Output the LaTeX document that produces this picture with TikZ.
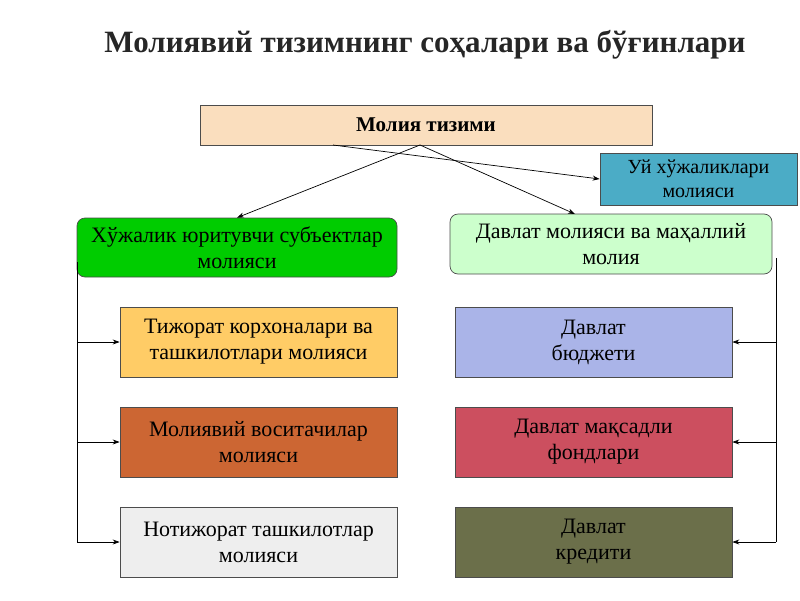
\documentclass[tikz,border=0pt]{standalone}
\usepackage{fontspec}
\setmainfont{Liberation Serif}
\usetikzlibrary{arrows.meta}
\begin{document}
\begin{tikzpicture}[x=1pt,y=-1pt,
 box/.style={draw=black!70,line width=0.7pt,align=center,font=\fontsize{22}{26}\selectfont,inner sep=0pt},
 arr/.style={-{Stealth[length=7pt,width=5pt]},line width=0.7pt}]
\useasboundingbox (0,0) rectangle (800,600);
\node[font=\bfseries\fontsize{31}{34}\selectfont,text=black!85] (title) at (425,45) {Молиявий тизимнинг соҳалари ва бўғинлари};
\node[box,fill={rgb,255:red,250;green,222;blue,190},minimum width=452pt,minimum height=40pt,font=\bfseries\fontsize{21}{24}\selectfont] (mt) at (426,125) {Молия тизими};
\node[box,fill={rgb,255:red,75;green,172;blue,198},minimum width=197pt,minimum height=52pt,font=\fontsize{20}{24}\selectfont] (uy) at (698.5,179) {Уй хўжаликлари\\молияси};
\node[box,fill={rgb,255:red,0;green,204;blue,0},rounded corners=8pt,minimum width=320pt,minimum height=59pt] (hj) at (237,247.5) {Хўжалик юритувчи субъектлар\\молияси};
\node[box,fill={rgb,255:red,204;green,255;blue,204},rounded corners=8pt,minimum width=322pt,minimum height=60pt] (dm) at (611,244) {Давлат молияси ва маҳаллий\\молия};
\node[box,fill={rgb,255:red,255;green,204;blue,102},minimum width=277pt,minimum height=70pt] (l1) at (258.5,342) {Тижорат корхоналари ва\\ташкилотлари молияси};
\node[box,fill={rgb,255:red,204;green,102;blue,51},minimum width=277pt,minimum height=70pt] (l2) at (258.5,442) {Молиявий воситачилар\\молияси};
\node[box,fill={rgb,255:red,238;green,238;blue,238},minimum width=277pt,minimum height=70pt] (l3) at (258.5,542) {Нотижорат ташкилотлар\\молияси};
\node[box,fill={rgb,255:red,170;green,180;blue,232},minimum width=277pt,minimum height=70pt] (r1) at (593.5,342) {Давлат\\бюджети};
\node[box,fill={rgb,255:red,204;green,79;blue,95},minimum width=277pt,minimum height=70pt] (r2) at (593.5,442) {Давлат мақсадли\\фондлари};
\node[box,fill={rgb,255:red,107;green,111;blue,74},minimum width=277pt,minimum height=70pt] (r3) at (593.5,542) {Давлат\\кредити};
\coordinate (top) at (420,145);
\coordinate (top2) at (333,145);
\coordinate (lt) at (77,262);
\coordinate (rt) at (776,258);
\draw[arr] (top) -- (hj.north);
\draw[arr] (top) -- (575,214);
\draw[arr] (top2) -- (uy.west);
\draw[line width=0.7pt] (lt) -- (77,542);
\foreach \n in {l1,l2,l3} \draw[arr] (77,0 |- \n.west) -- (\n.west);
\draw[line width=0.7pt] (rt) -- (776,542);
\foreach \n in {r1,r2,r3} \draw[arr] (776,0 |- \n.east) -- (\n.east);
\end{tikzpicture}
\end{document}
